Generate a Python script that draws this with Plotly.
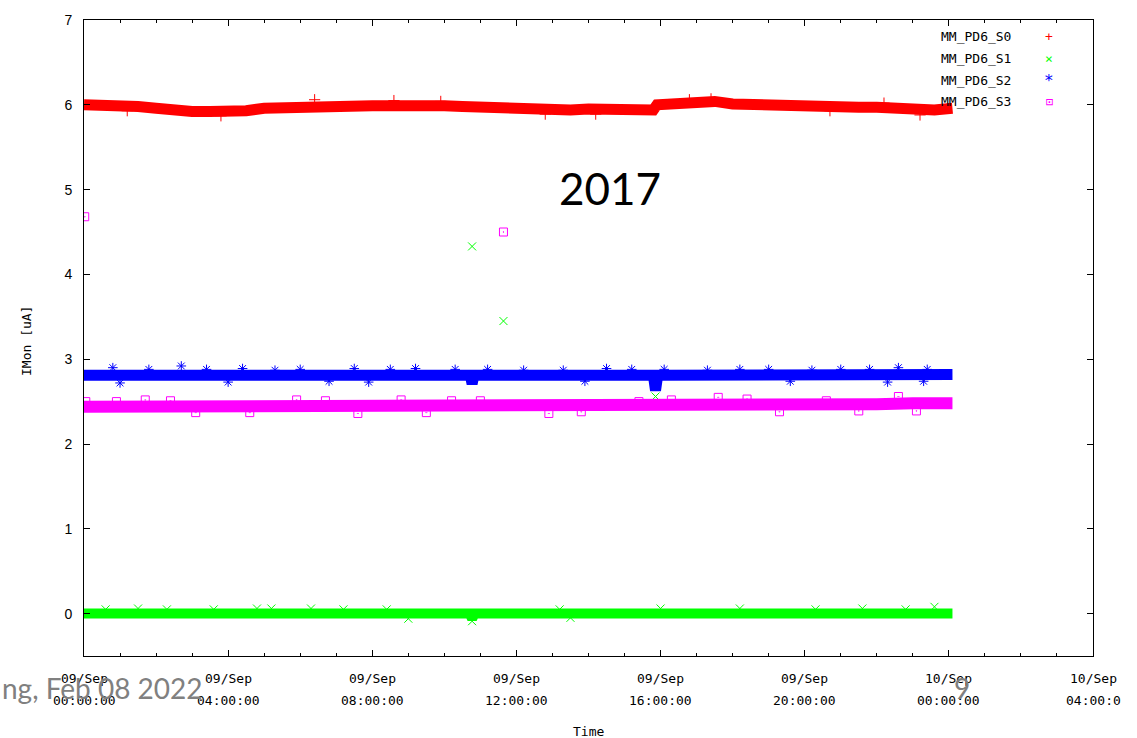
import pandas as pd
import plotly.graph_objects as go

# ---- data: hours after 2017-09-09 00:00 and IMon values [uA] ----
START = pd.Timestamp("2017-09-09 00:00:00")

# MM_PD6_S0 (red)
s0_hours = [0, 0.5, 1, 1.5, 2, 2.5, 3, 3.5, 4, 4.5, 5, 5.5, 6, 6.5, 7, 7.5, 8, 8.5,
            9, 9.5, 10, 10.5, 11, 11.5, 12, 12.5, 13, 13.5, 14, 14.5, 15, 15.5,
            15.8, 15.9, 16.5, 17, 17.5, 18, 18.5, 19, 19.5, 20, 20.5, 21, 21.5,
            22, 22.5, 23, 23.3, 23.6, 24.1]
s0_values = [6.00, 6.00, 6.00, 5.98, 5.96, 5.93, 5.92, 5.92, 5.92, 5.93, 5.96, 5.97,
             5.98, 5.99, 5.98, 5.98, 5.99, 5.99, 6.00, 6.00, 5.99, 5.98, 5.97, 5.96,
             5.96, 5.95, 5.94, 5.94, 5.95, 5.94, 5.94, 5.93, 5.94, 6.00, 6.02, 6.02,
             6.04, 6.01, 6.00, 6.00, 5.99, 5.99, 5.98, 5.98, 5.97, 5.97, 5.96, 5.94,
             5.92, 5.94, 5.96]
s0_spike_hours = [6.4, 8.6, 17.4, 1.2, 12.8, 20.7, 3.8, 9.9, 14.2, 16.8, 22.2, 23.2]
s0_spike_values = [6.06, 6.05, 6.07, 5.93, 5.89, 5.93, 5.87, 6.04, 5.89, 6.06, 6.02, 5.88]

# MM_PD6_S1 (green)
s1_hours = [0, 1, 2, 3, 4, 5, 6, 7, 8, 9, 10, 10.7, 10.77, 10.84, 11, 12, 13, 14,
            15, 16, 17, 18, 19, 20, 21, 22, 23, 24, 24.1]
s1_values = [0.00, 0.00, 0.00, 0.00, 0.00, 0.00, 0.00, 0.00, 0.00, 0.00, 0.00,
             0.00, -0.06, 0.00, 0.00, 0.00, 0.00, 0.00, 0.00, 0.00, 0.00, 0.00,
             0.00, 0.00, 0.00, 0.00, 0.00, 0.00, 0.00]
s1_spike_hours = [10.77, 11.64, 15.86, 23.6, 10.77, 1.5, 5.2, 6.3, 16.0, 20.3,
                  0.6, 2.3, 3.6, 4.8, 7.2, 8.4, 13.2, 18.2, 21.6, 22.8, 9.0, 13.5]
s1_spike_values = [4.33, 3.45, 2.56, 0.08, -0.09, 0.06, 0.06, 0.06, 0.06, 0.05,
                   0.05, 0.05, 0.05, 0.06, 0.05, 0.05, 0.05, 0.06, 0.06, 0.05, -0.06, -0.05]

# MM_PD6_S2 (blue)
s2_hours = [0, 1, 2, 3, 4, 5, 6, 7, 8, 9, 10, 10.72, 10.77, 10.82, 11, 12, 13, 14,
            15, 15.8, 15.86, 15.92, 16, 17, 18, 19, 20, 21, 22, 23, 24, 24.1]
s2_values = [2.81, 2.81, 2.81, 2.81, 2.81, 2.81, 2.81, 2.81, 2.81, 2.81, 2.81,
             2.81, 2.71, 2.81, 2.81, 2.81, 2.81, 2.81, 2.81, 2.81, 2.63, 2.81,
             2.81, 2.81, 2.81, 2.81, 2.81, 2.81, 2.81, 2.82, 2.82, 2.82]
s2_spike_hours = [0.8, 2.7, 4.4, 6.0, 7.5, 9.2, 12.2, 14.5, 16.1, 19.0, 21.0, 22.6,
                  23.4, 1.0, 4.0, 7.9, 22.3, 23.3, 1.8, 3.4, 5.3, 8.5, 10.3, 11.2,
                  13.3, 15.2, 17.3, 18.2, 20.2, 21.8, 6.8, 13.9, 19.6]
s2_spike_values = [2.90, 2.92, 2.89, 2.88, 2.89, 2.89, 2.87, 2.89, 2.88, 2.88, 2.88,
                   2.90, 2.88, 2.72, 2.73, 2.73, 2.73, 2.74, 2.88, 2.88, 2.87, 2.88,
                   2.88, 2.88, 2.87, 2.88, 2.87, 2.88, 2.87, 2.88, 2.74, 2.74, 2.74]

# MM_PD6_S3 (magenta)
s3_hours = [0, 1, 2, 3, 4, 5, 6, 7, 8, 9, 10, 11, 12, 13, 14, 15, 16, 17, 18, 19,
            20, 21, 22, 23, 24, 24.1]
s3_values = [2.44, 2.44, 2.44, 2.44, 2.44, 2.44, 2.44, 2.44, 2.44, 2.44, 2.44,
             2.45, 2.45, 2.45, 2.45, 2.46, 2.46, 2.46, 2.46, 2.47, 2.47, 2.47,
             2.47, 2.48, 2.48, 2.48]
s3_spike_hours = [0.02, 11.64, 0.9, 1.7, 3.1, 5.9, 7.6, 8.8, 10.2, 12.9, 15.4, 17.6,
                  19.3, 20.6, 22.6, 23.1, 2.4, 4.6, 6.7, 9.5, 11.0, 13.8, 16.3, 18.4,
                  21.5, 0.05]
s3_spike_values = [4.68, 4.50, 2.50, 2.52, 2.37, 2.52, 2.36, 2.52, 2.51, 2.36, 2.50,
                   2.55, 2.38, 2.51, 2.56, 2.39, 2.51, 2.37, 2.51, 2.37, 2.51, 2.38,
                   2.52, 2.53, 2.39, 2.50]

series_names = ["MM_PD6_S0", "MM_PD6_S1", "MM_PD6_S2", "MM_PD6_S3"]
series_colors = ["#ff0000", "#00ff00", "#0000ff", "#ff00ff"]
series_symbols = ["cross-thin-open", "x-thin-open", "asterisk-open", "square-open-dot"]
legend_glyphs = ["+", "×", "*", "⊡"]
legend_sizes = [13, 13, 16, 12]

# axis ticks (hours) and their two-line labels
tick_hours = [0, 4, 8, 12, 16, 20, 24, 28]
tick_dates = ["09/Sep", "09/Sep", "09/Sep", "09/Sep", "09/Sep", "09/Sep", "10/Sep", "10/Sep"]
tick_times = ["00:00:00", "04:00:00", "08:00:00", "12:00:00", "16:00:00", "20:00:00",
              "00:00:00", "04:00:0"]
y_ticks = [0, 1, 2, 3, 4, 5, 6, 7]


def to_time(hours):
    return START + pd.to_timedelta(pd.Series(hours, dtype=float), unit="h")


bands = [(s0_hours, s0_values, 11), (s1_hours, s1_values, 10),
         (s2_hours, s2_values, 11), (s3_hours, s3_values, 12)]
spikes = [(s0_spike_hours, s0_spike_values), (s1_spike_hours, s1_spike_values),
          (s2_spike_hours, s2_spike_values), (s3_spike_hours, s3_spike_values)]

fig = go.Figure()
for i in range(4):
    h, v, w = bands[i]
    fig.add_trace(go.Scatter(
        x=to_time(h), y=v, mode="lines", showlegend=False,
        line=dict(color=series_colors[i], width=w),
        name=series_names[i]))
    sh, sv = spikes[i]
    fig.add_trace(go.Scatter(
        x=to_time(sh), y=sv, mode="markers", showlegend=False,
        marker=dict(symbol=series_symbols[i], size=8, color=series_colors[i],
                    line=dict(width=1, color=series_colors[i])),
        name=series_names[i]))

mono = "DejaVu Sans Mono"
W, H = 1137, 738
L, R, T, B = 84, 44, 18, 82
pw, ph = W - L - R, H - T - B


def px(x):
    return (x - L) / pw


def py(y):
    return (H - B - y) / ph


ann = []
# x tick labels (two lines)
for hh, d, t in zip(tick_hours, tick_dates, tick_times):
    xt = START + pd.Timedelta(hours=hh)
    ann.append(dict(x=xt, xref="x", y=0, yref="paper", yshift=-22, text=d,
                    showarrow=False, xanchor="center", yanchor="middle",
                    font=dict(family=mono, size=13, color="black")))
    ann.append(dict(x=xt, xref="x", y=0, yref="paper", yshift=-44, text=t,
                    showarrow=False, xanchor="center", yanchor="middle",
                    font=dict(family=mono, size=13, color="black")))

# axis titles
ann.append(dict(x=0.5, xref="paper", y=py(732), yref="paper", text="Time",
                showarrow=False, xanchor="center", yanchor="middle",
                font=dict(family=mono, size=13, color="black")))
ann.append(dict(x=px(27), xref="paper", y=py(340), yref="paper", text="IMon [uA]",
                textangle=-90, showarrow=False, xanchor="center", yanchor="middle",
                font=dict(family=mono, size=13, color="black")))

# key: name followed by its symbol
for i, yy in enumerate([35, 57, 79, 100]):
    ann.append(dict(x=px(1013), xref="paper", y=py(yy), yref="paper",
                    text=series_names[i], showarrow=False, xanchor="right",
                    yanchor="middle", font=dict(family=mono, size=13, color="black")))
    ann.append(dict(x=px(1049), xref="paper", y=py(yy), yref="paper",
                    text=legend_glyphs[i], showarrow=False, xanchor="center",
                    yanchor="middle",
                    font=dict(family=mono, size=legend_sizes[i], color=series_colors[i])))

# year label and slide footer
ann.append(dict(x=px(610), xref="paper", y=py(187), yref="paper", text="2017",
                showarrow=False, xanchor="center", yanchor="middle",
                font=dict(family="Lato", size=44, color="black")))
ann.append(dict(x=px(0), xref="paper", y=py(688), yref="paper", text="ng, Feb 08 2022",
                showarrow=False, xanchor="left", yanchor="middle",
                font=dict(family="Lato", size=28, color="#808080")))
ann.append(dict(x=px(962), xref="paper", y=py(688), yref="paper", text="9",
                showarrow=False, xanchor="center", yanchor="middle",
                font=dict(family="Lato", size=28, color="#808080")))

fig.update_layout(
    width=W, height=H,
    margin=dict(l=L, r=R, t=T, b=B, pad=0),
    paper_bgcolor="white", plot_bgcolor="white",
    showlegend=False,
    annotations=ann,
    xaxis=dict(
        type="date",
        range=[START, START + pd.Timedelta(hours=28)],
        tickvals=[START + pd.Timedelta(hours=hh) for hh in tick_hours],
        showticklabels=False,
        ticks="inside", ticklen=6, tickcolor="black", tickwidth=1,
        minor=dict(dtick=3600000, ticks="inside", ticklen=3, tickcolor="black",
                   showgrid=False),
        showline=True, linecolor="black", linewidth=1, mirror="ticks",
        showgrid=False, zeroline=False,
    ),
    yaxis=dict(
        range=[-0.5, 7],
        tickvals=y_ticks,
        ticks="inside", ticklen=6, tickcolor="black", tickwidth=1,
        ticklabelstandoff=8,
        tickfont=dict(family="Liberation Sans", size=14, color="black"),
        showline=True, linecolor="black", linewidth=1, mirror="ticks",
        showgrid=False, zeroline=False,
    ),
)

fig.write_html("out.html")
